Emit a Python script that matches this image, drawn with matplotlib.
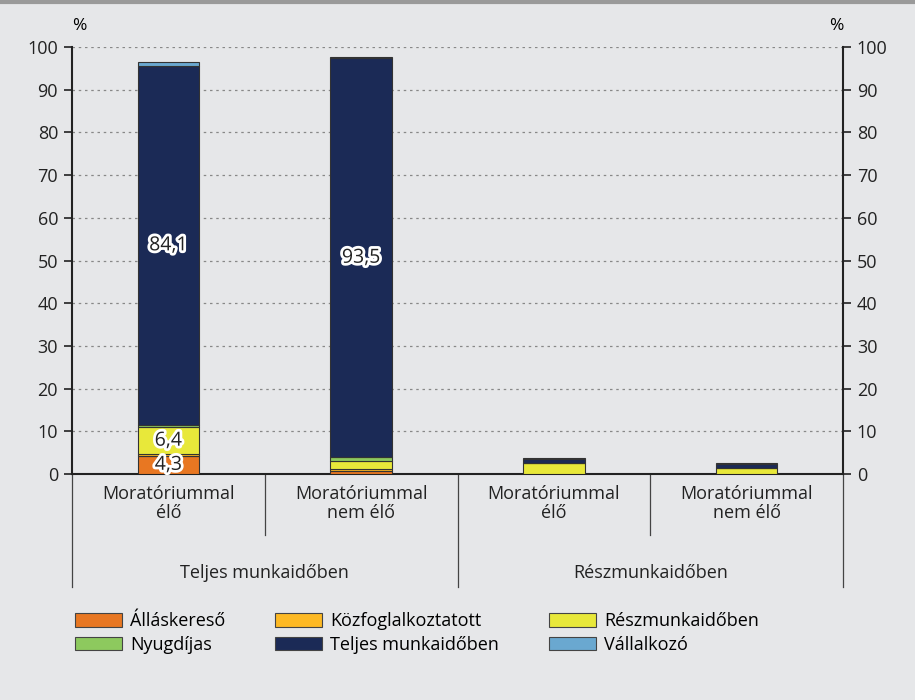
import matplotlib.pyplot as plt
from matplotlib.patches import Patch
from matplotlib.lines import Line2D
import matplotlib.patheffects as pe

plt.rcParams['font.family'] = ['Open Sans', 'DejaVu Sans']

# ---------- data ----------
categories = ["Moratóriummal\nélő", "Moratóriummal\nnem élő",
              "Moratóriummal\nélő", "Moratóriummal\nnem élő"]
groups = ["Teljes munkaidőben", "Részmunkaidőben"]

series_names = ["Álláskereső", "Közfoglalkoztatott", "Részmunkaidőben",
                "Nyugdíjas", "Teljes munkaidőben", "Vállalkozó"]
allaskereso = [4.3, 0.8, 0.0, 0.0]
kozfogl = [0.3, 0.3, 0.0, 0.0]
reszmunka = [6.4, 2.0, 2.6, 1.3]
nyugdijas = [0.5, 0.8, 0.0, 0.0]
teljes = [84.1, 93.5, 1.0, 1.0]
vallalkozo = [0.8, 0.3, 0.2, 0.2]
series = [allaskereso, kozfogl, reszmunka, nyugdijas, teljes, vallalkozo]
colors = ["#e87722", "#fdb924", "#e8e83a", "#8dc95e", "#1b2a56", "#6aa8d0"]

# labelled segments: (series index, bar index)
labelled = [(0, 0), (2, 0), (4, 0), (4, 1)]

fs = 13
bg = "#e6e7e9"
fig = plt.figure(figsize=(9.15, 7), dpi=100, facecolor=bg)
ax = fig.add_axes([72 / 915, 1 - 474 / 700, (843 - 72) / 915, (474 - 47) / 700])
ax.set_facecolor(bg)

x = list(range(len(categories)))
bottoms = [0.0] * len(x)
for i, vals in enumerate(series):
    ax.bar(x, vals, width=0.32, bottom=bottoms, color=colors[i],
           edgecolor="#333333", linewidth=0.8, zorder=3)
    for j in range(len(x)):
        if (i, j) in labelled:
            ax.text(x[j], bottoms[j] + vals[j] / 2, f"{vals[j]:.1f}".replace(".", ","),
                    ha="center", va="center", fontsize=14, color="#222222", zorder=5,
                    path_effects=[pe.withStroke(linewidth=4, foreground="white")])
    bottoms = [b + v for b, v in zip(bottoms, vals)]

ax.set_xlim(-0.5, 3.5)
ax.set_ylim(0, 100)
ax.set_yticks(range(0, 101, 10))
ax.tick_params(axis="y", labelsize=fs, direction="out", length=6, width=1.2,
               colors="#222222", right=True, labelright=True, pad=4)
ax.set_xticks([])
ax.grid(axis="y", linestyle=(0, (2, 3)), color="#888888", linewidth=0.9, zorder=0)
ax.spines["top"].set_visible(False)
for s in ["left", "right", "bottom"]:
    ax.spines[s].set_linewidth(1.5)
    ax.spines[s].set_color("#222222")

ax.text(0.0, 1.03, "%", transform=ax.transAxes, ha="left", va="bottom", fontsize=fs - 0.5)
ax.text(1.0, 1.03, "%", transform=ax.transAxes, ha="right", va="bottom", fontsize=fs - 0.5)

# category axis below the plot
tr = ax.transAxes
def vline(xa, y0, y1):
    ax.add_line(Line2D([xa, xa], [y0, y1], transform=tr, color="#444444",
                       linewidth=0.9, clip_on=False))

for k in range(5):
    xa = k / 4
    if k in (0, 2, 4):
        vline(xa, 0, -0.265)
    else:
        vline(xa, 0, -0.143)
for j, lab in enumerate(categories):
    ax.text((j + 0.5) / 4, -0.0265, lab, transform=tr, ha="center", va="top",
            fontsize=fs, linespacing=1.05, color="#222222")
for g, lab in enumerate(groups):
    ax.text((g + 0.5) / 2, -0.232, lab, transform=tr, ha="center", va="center",
            fontsize=fs, color="#222222")

# legend
handles = [Patch(facecolor=c, edgecolor="#444444", linewidth=0.8) for c in colors]
order = [0, 3, 1, 4, 2, 5]
fig.legend([handles[i] for i in order], [series_names[i] for i in order],
           ncol=3, loc="upper left", bbox_to_anchor=(59 / 915, 1 - 596 / 700),
           frameon=False, fontsize=fs, handlelength=2.6, handleheight=0.75,
           handletextpad=0.45, columnspacing=2.75, labelspacing=0.3)

# grey rule at top
fig.add_artist(Line2D([0, 1], [0.997, 0.997], transform=fig.transFigure,
                      color="#9a9a9a", linewidth=3))

fig.savefig("out.png", dpi=100, facecolor=bg)
